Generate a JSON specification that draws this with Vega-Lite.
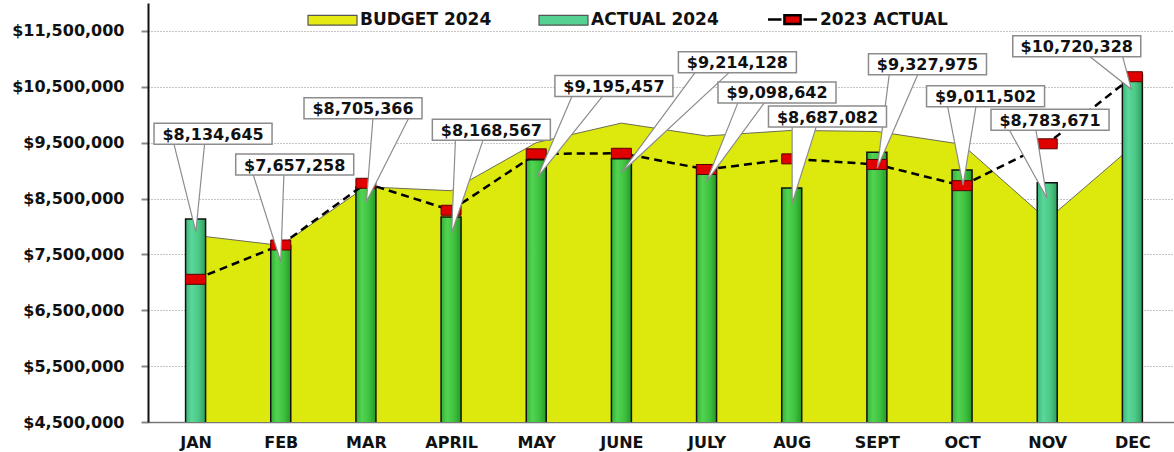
{
  "$schema": "https://vega.github.io/schema/vega-lite/v6.json",
  "width": 1026,
  "height": 419,
  "autosize": {"type": "none"},
  "padding": {"left": 148, "top": 3, "right": 0, "bottom": 30},
  "background": "white",
  "config": {"view": {"stroke": null}, "font": "DejaVu Sans"},
  "datasets": {
    "monthly": [
      {"idx": 0, "month": "JAN", "budget": 7840000, "actual": 8134645, "actual2023": 7054000},
      {"idx": 1, "month": "FEB", "budget": 7660000, "actual": 7657258, "actual2023": 7668000},
      {"idx": 2, "month": "MAR", "budget": 8710000, "actual": 8705366, "actual2023": 8773000},
      {"idx": 3, "month": "APRIL", "budget": 8640000, "actual": 8168567, "actual2023": 8290000},
      {"idx": 4, "month": "MAY", "budget": 9500000, "actual": 9195457, "actual2023": 9300000},
      {"idx": 5, "month": "JUNE", "budget": 9850000, "actual": 9214128, "actual2023": 9310000},
      {"idx": 6, "month": "JULY", "budget": 9620000, "actual": 9098642, "actual2023": 9020000},
      {"idx": 7, "month": "AUG", "budget": 9720000, "actual": 8687082, "actual2023": 9210000},
      {"idx": 8, "month": "SEPT", "budget": 9700000, "actual": 9327975, "actual2023": 9110000},
      {"idx": 9, "month": "OCT", "budget": 9470000, "actual": 9011502, "actual2023": 8730000},
      {"idx": 10, "month": "NOV", "budget": 8120000, "actual": 8783671, "actual2023": 9480000},
      {"idx": 11, "month": "DEC", "budget": 9430000, "actual": 10720328, "actual2023": 10680000}
    ],
    "callouts": [
      {"month": "JAN", "actual": 8134645, "label_x": 0.205, "label_y": 9661000},
      {"month": "FEB", "actual": 7657258, "label_x": 1.164, "label_y": 9109000},
      {"month": "MAR", "actual": 8705366, "label_x": 1.966, "label_y": 10115000},
      {"month": "APRIL", "actual": 8168567, "label_x": 3.473, "label_y": 9732000},
      {"month": "MAY", "actual": 9195457, "label_x": 4.912, "label_y": 10514000},
      {"month": "JUNE", "actual": 9214128, "label_x": 6.362, "label_y": 10939000},
      {"month": "JULY", "actual": 9098642, "label_x": 6.827, "label_y": 10398000},
      {"month": "AUG", "actual": 8687082, "label_x": 7.42, "label_y": 9968000},
      {"month": "SEPT", "actual": 9327975, "label_x": 8.594, "label_y": 10903000},
      {"month": "OCT", "actual": 9011502, "label_x": 9.276, "label_y": 10330000},
      {"month": "NOV", "actual": 8783671, "label_x": 10.033, "label_y": 9911000},
      {"month": "DEC", "actual": 10720328, "label_x": 10.347, "label_y": 11225000}
    ],
    "wedges": [
      {"month": "JAN", "pt": 0, "wx": -0.26, "wy": 9511000},
      {"month": "JAN", "pt": 1, "wx": 0.003, "wy": 7906000},
      {"month": "JAN", "pt": 2, "wx": 0.108, "wy": 9511000},
      {"month": "FEB", "pt": 0, "wx": 0.67, "wy": 8959000},
      {"month": "FEB", "pt": 1, "wx": 1.0, "wy": 7369000},
      {"month": "FEB", "pt": 2, "wx": 1.038, "wy": 8959000},
      {"month": "MAR", "pt": 0, "wx": 2.084, "wy": 9965000},
      {"month": "MAR", "pt": 1, "wx": 2.006, "wy": 8443000},
      {"month": "MAR", "pt": 2, "wx": 2.511, "wy": 9965000},
      {"month": "APRIL", "pt": 0, "wx": 3.052, "wy": 9582000},
      {"month": "APRIL", "pt": 1, "wx": 3.006, "wy": 7878000},
      {"month": "APRIL", "pt": 2, "wx": 3.383, "wy": 9582000},
      {"month": "MAY", "pt": 0, "wx": 4.429, "wy": 10364000},
      {"month": "MAY", "pt": 1, "wx": 4.014, "wy": 8880000},
      {"month": "MAY", "pt": 2, "wx": 4.796, "wy": 10364000},
      {"month": "JUNE", "pt": 0, "wx": 5.882, "wy": 10789000},
      {"month": "JUNE", "pt": 1, "wx": 4.998, "wy": 8962000},
      {"month": "JUNE", "pt": 2, "wx": 6.289, "wy": 10789000},
      {"month": "JULY", "pt": 0, "wx": 6.377, "wy": 10248000},
      {"month": "JULY", "pt": 1, "wx": 5.998, "wy": 8801000},
      {"month": "JULY", "pt": 2, "wx": 6.695, "wy": 10248000},
      {"month": "AUG", "pt": 0, "wx": 7.005, "wy": 9818000},
      {"month": "AUG", "pt": 1, "wx": 7.005, "wy": 8415000},
      {"month": "AUG", "pt": 2, "wx": 7.295, "wy": 9818000},
      {"month": "SEPT", "pt": 0, "wx": 8.148, "wy": 10753000},
      {"month": "SEPT", "pt": 1, "wx": 8.004, "wy": 9041000},
      {"month": "SEPT", "pt": 2, "wx": 8.489, "wy": 10753000},
      {"month": "OCT", "pt": 0, "wx": 8.826, "wy": 10180000},
      {"month": "OCT", "pt": 1, "wx": 9.012, "wy": 8742000},
      {"month": "OCT", "pt": 2, "wx": 9.167, "wy": 10180000},
      {"month": "NOV", "pt": 0, "wx": 9.543, "wy": 9761000},
      {"month": "NOV", "pt": 1, "wx": 9.997, "wy": 8504000},
      {"month": "NOV", "pt": 2, "wx": 9.864, "wy": 9761000},
      {"month": "DEC", "pt": 0, "wx": 10.473, "wy": 11075000},
      {"month": "DEC", "pt": 1, "wx": 10.988, "wy": 10455000},
      {"month": "DEC", "pt": 2, "wx": 10.88, "wy": 11075000}
    ],
    "legend": [
      {"series": "BUDGET 2024"},
      {"series": "ACTUAL 2024"},
      {"series": "2023 ACTUAL"}
    ]
  },
  "layer": [
    {
      "data": {"name": "monthly"},
      "mark": {"type": "area", "color": "#dde80c", "opacity": 1, "clip": true, "line": {"color": "#6d6d55", "strokeWidth": 1}, "interpolate": "linear"},
      "encoding": {
        "x": {
          "field": "idx", "type": "quantitative",
          "scale": {"domain": [-0.5, 11.43], "nice": false, "zero": false},
          "axis": {
            "values": [0, 1, 2, 3, 4, 5, 6, 7, 8, 9, 10, 11],
            "labelExpr": "['JAN','FEB','MAR','APRIL','MAY','JUNE','JULY','AUG','SEPT','OCT','NOV','DEC'][datum.value]",
            "title": null, "grid": false, "ticks": false,
            "domainColor": "#777777", "domainWidth": 1.5,
            "labelFont": "DejaVu Sans", "labelFontWeight": "bold", "labelFontSize": 16,
            "labelColor": "#111111", "labelPadding": 12, "labelFlush": false, "labelOverlap": false
          }
        },
        "y": {
          "field": "budget", "type": "quantitative",
          "scale": {"domain": [4500000, 12000000], "nice": false, "zero": false},
          "axis": {
            "values": [4500000, 5500000, 6500000, 7500000, 8500000, 9500000, 10500000, 11500000],
            "format": "$,d", "title": null,
            "grid": true, "gridColor": "#8a8a8a", "gridDash": [1, 2], "gridWidth": 1,
            "domainColor": "#111111", "domainWidth": 2,
            "tickSize": 7, "tickColor": "#888888", "tickWidth": 2,
            "labelFont": "DejaVu Sans", "labelFontWeight": "bold", "labelFontSize": 16,
            "labelColor": "#111111", "labelPadding": 17, "labelFlush": false, "labelOverlap": false
          }
        }
      }
    },
    {
      "data": {"name": "monthly"},
      "transform": [{"filter": "datum.actual <= datum.budget"}],
      "mark": {
        "type": "bar", "width": 20, "clip": true, "stroke": "#111111", "strokeWidth": 1.5,
        "fill": {"gradient": "linear", "x1": 0, "x2": 1, "y1": 0, "y2": 0,
          "stops": [{"offset": 0, "color": "#34b034"}, {"offset": 0.3, "color": "#52d452"}, {"offset": 0.65, "color": "#3fc23f"}, {"offset": 1, "color": "#279a27"}]}
      },
      "encoding": {
        "x": {"field": "idx", "type": "quantitative"},
        "y": {"field": "actual", "type": "quantitative"}
      }
    },
    {
      "data": {"name": "monthly"},
      "transform": [{"filter": "datum.actual > datum.budget"}],
      "mark": {
        "type": "bar", "width": 20, "clip": true, "stroke": "#111111", "strokeWidth": 1.5,
        "fill": {"gradient": "linear", "x1": 0, "x2": 1, "y1": 0, "y2": 0,
          "stops": [{"offset": 0, "color": "#3db478"}, {"offset": 0.3, "color": "#5ad89a"}, {"offset": 0.65, "color": "#4cc886"}, {"offset": 1, "color": "#2f9e5e"}]}
      },
      "encoding": {
        "x": {"field": "idx", "type": "quantitative"},
        "y": {"field": "actual", "type": "quantitative"}
      }
    },
    {
      "data": {"name": "monthly"},
      "mark": {"type": "line", "color": "#000000", "strokeWidth": 2.5, "strokeDash": [8, 5]},
      "encoding": {
        "x": {"field": "idx", "type": "quantitative"},
        "y": {"field": "actual2023", "type": "quantitative"}
      }
    },
    {
      "data": {"name": "monthly"},
      "mark": {"type": "point", "shape": "M-1,-0.5H1V0.5H-1Z", "size": 400, "filled": true, "fill": "#e00000", "stroke": "#5a0000", "strokeWidth": 1, "opacity": 1},
      "encoding": {
        "x": {"field": "idx", "type": "quantitative"},
        "y": {"field": "actual2023", "type": "quantitative"}
      }
    },
    {
      "data": {"name": "wedges"},
      "mark": {"type": "line", "fill": "#ffffff", "stroke": "#8c8c8c", "strokeWidth": 1.2, "interpolate": "linear"},
      "encoding": {
        "x": {"field": "wx", "type": "quantitative"},
        "y": {"field": "wy", "type": "quantitative"},
        "detail": {"field": "month"},
        "order": {"field": "pt", "type": "quantitative"}
      }
    },
    {
      "data": {"name": "callouts"},
      "mark": {"type": "point", "size": 16384, "filled": true, "fill": "#ffffff", "stroke": "#8c8c8c", "strokeWidth": 1.5, "opacity": 1},
      "encoding": {
        "x": {"field": "label_x", "type": "quantitative"},
        "y": {"field": "label_y", "type": "quantitative"},
        "shape": {
          "condition": {"test": "datum.actual >= 10000000", "value": "M-1,-0.164H1V0.164H-1Z"},
          "value": "M-0.922,-0.164H0.922V0.164H-0.922Z"
        }
      }
    },
    {
      "data": {"name": "callouts"},
      "mark": {"type": "text", "font": "DejaVu Sans", "fontWeight": "bold", "fontSize": 16, "color": "#111111", "align": "center", "baseline": "middle", "dy": 1},
      "encoding": {
        "x": {"field": "label_x", "type": "quantitative"},
        "y": {"field": "label_y", "type": "quantitative"},
        "text": {"field": "actual", "type": "quantitative", "format": "$,d"}
      }
    },
    {
      "data": {"name": "legend"},
      "mark": {"type": "point", "filled": true, "opacity": 0},
      "encoding": {
        "color": {
          "field": "series", "type": "nominal",
          "scale": {"domain": ["BUDGET 2024", "ACTUAL 2024", "2023 ACTUAL"], "range": ["#e6ea14", "#55d192", "#dd0000"]},
          "legend": {
            "orient": "none", "legendX": 176, "legendY": 8, "direction": "horizontal",
            "title": null, "symbolSize": 2401, "symbolOpacity": 1,
            "labelFont": "DejaVu Sans", "labelFontWeight": "bold", "labelFontSize": 17, "labelColor": "#111111",
            "labelOffset": 19, "columnPadding": 44, "labelLimit": 300,
            "encode": {
              "symbols": {
                "update": {
                  "stroke": {"signal": "datum.value === '2023 ACTUAL' ? '#000000' : '#555555'"},
                  "strokeWidth": {"signal": "datum.value === '2023 ACTUAL' ? 2.5 : 1.2"}
                }
              }
            }
          }
        },
        "shape": {
          "field": "series", "type": "nominal",
          "scale": {"domain": ["BUDGET 2024", "ACTUAL 2024", "2023 ACTUAL"], "range": ["M-1,-0.2H1V0.2H-1Z", "M-1,-0.2H1V0.2H-1Z", "M-1,0H-0.45M0.45,0H1M-0.33,-0.18H0.33V0.18H-0.33Z"]}
        }
      }
    }
  ]
}
